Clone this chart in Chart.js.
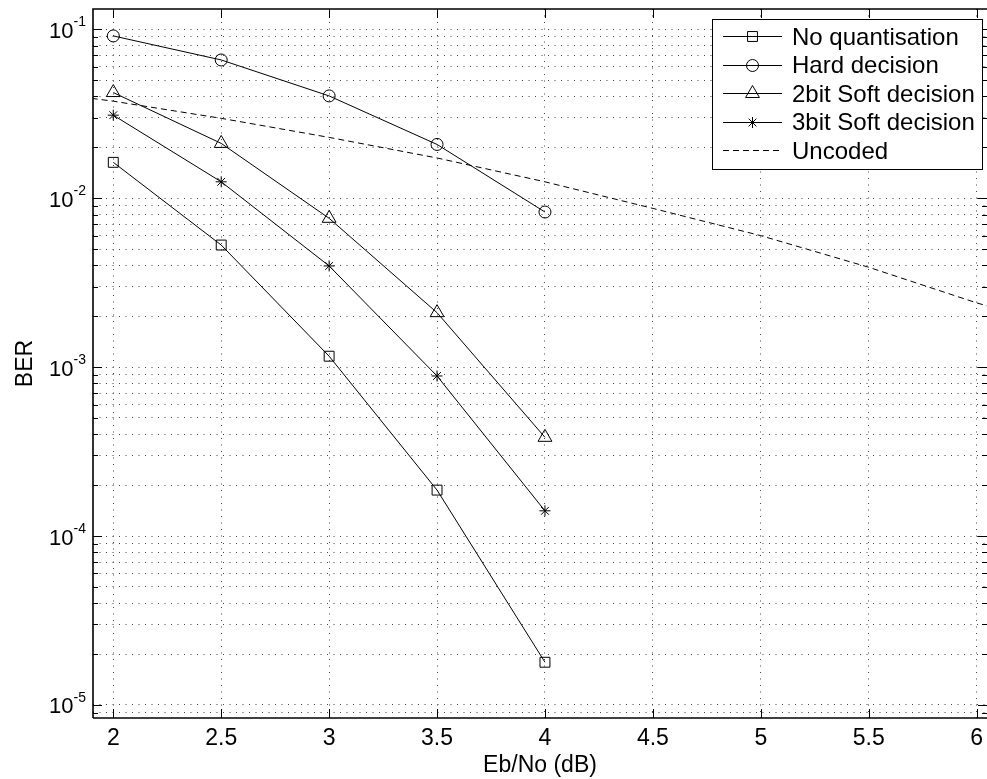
<!DOCTYPE html>
<html>
<head>
<meta charset="utf-8">
<script src="https://cdn.jsdelivr.net/npm/chart.js@4.4.0/dist/chart.umd.min.js"></script>
<style>
  body { margin: 0; background: #fff; }
  canvas { display: block; }
</style>
</head>
<body>
<canvas id="ber" width="987" height="779"></canvas>
<script>
// values
const ebno = [2, 2.5, 3, 3.5, 4];
const noQuant = [0.0163, 0.00528, 0.00116, 0.000187, 0.0000179];
const hardDec = [0.0913, 0.0658, 0.0403, 0.0208, 0.00828];
const soft2bit = [0.0422, 0.0211, 0.0076, 0.0021, 0.000384];
const soft3bit = [0.031, 0.0125, 0.00397, 0.000886, 0.000141];
const uncodedX = [1.9, 2, 2.5, 3, 3.5, 4, 4.5, 5, 5.5, 6, 6.05];
const uncodedY = [0.039, 0.0375, 0.0297, 0.0229, 0.0173, 0.0125, 0.0087, 0.006, 0.0039, 0.0024, 0.0023];
const xTicks = [2, 2.5, 3, 3.5, 4, 4.5, 5, 5.5, 6];
const yDecades = [1e-5, 1e-4, 1e-3, 1e-2, 1e-1];
const yExponents = ['-5', '-4', '-3', '-2', '-1'];

const FONT = "'Liberation Sans', Arial, Helvetica, sans-serif";
const X_MIN = 1.906, X_MAX = 6.048;
const Y_MIN = 8.37e-6, Y_MAX = 0.1318;

// grid at every 1..9 x 10^k inside the range
const yGrid = [];
[1e-6].concat(yDecades).forEach(d => {
  for (let k = 1; k <= 9; k++) {
    const v = k * d;
    if (v >= Y_MIN && v <= Y_MAX) yGrid.push(v);
  }
});
const isDecade = v => yDecades.some(d => Math.abs(v / d - 1) < 1e-6);

const pts = (xs, ys) => xs.map((x, i) => ({ x: x, y: ys[i] }));

function series(label, ys, style, radius) {
  return {
    label: label,
    data: pts(ebno, ys),
    borderColor: '#000',
    borderWidth: 1,
    pointStyle: style,
    pointRadius: radius,
    pointBorderColor: '#000',
    pointBackgroundColor: 'rgba(0,0,0,0)',
    pointBorderWidth: 1,
    tension: 0,
    fill: false
  };
}

const datasets = [
  series('No quantisation', noQuant, 'rect', 7),
  series('Hard decision', hardDec, 'circle', 6),
  series('2bit Soft decision', soft2bit, 'triangle', 8),
  series('3bit Soft decision', soft3bit, 'star', 5.5),
  {
    label: 'Uncoded',
    data: pts(uncodedX, uncodedY),
    borderColor: '#000',
    borderWidth: 1,
    borderDash: [6, 4],
    pointRadius: 0,
    tension: 0,
    fill: false
  }
];

// MATLAB style box, inward ticks, 10^n labels and legend
const matlabAxes = {
  id: 'matlabAxes',
  afterDatasetsDraw(chart) {
    const ctx = chart.ctx;
    const { left, right, top, bottom } = chart.chartArea;
    const xs = chart.scales.x, ys = chart.scales.y;
    ctx.save();
    ctx.strokeStyle = '#000';
    ctx.lineWidth = 1.6;
    ctx.setLineDash([]);
    ctx.beginPath();
    ctx.moveTo(left, bottom); ctx.lineTo(left, top); ctx.lineTo(right + 1, top);
    ctx.moveTo(left, bottom); ctx.lineTo(right + 1, bottom);
    ctx.stroke();

    ctx.lineWidth = 1;
    ctx.beginPath();
    xTicks.forEach(v => {
      const px = Math.round(xs.getPixelForValue(v)) + 0.5;
      ctx.moveTo(px, bottom); ctx.lineTo(px, bottom - 9);
      ctx.moveTo(px, top); ctx.lineTo(px, top + 9);
    });
    yGrid.forEach(v => {
      const py = Math.round(ys.getPixelForValue(v)) + 0.5;
      const len = isDecade(v) ? 9 : 5;
      ctx.moveTo(left, py); ctx.lineTo(left + len, py);
      ctx.moveTo(right, py); ctx.lineTo(right - len, py);
    });
    ctx.stroke();

    // y tick labels with superscript
    ctx.fillStyle = '#000';
    yDecades.forEach((d, i) => {
      const py = ys.getPixelForValue(d);
      ctx.font = '22px ' + FONT;
      ctx.textAlign = 'right';
      ctx.textBaseline = 'alphabetic';
      ctx.fillText('10', 73.5, py + 8.5);
      ctx.font = '14px ' + FONT;
      ctx.textAlign = 'left';
      ctx.fillText(yExponents[i], 73.5, py - 3);
    });

    // legend
    const bx = 712, by = 19, bw = 270, bh = 150;
    ctx.fillStyle = '#fff';
    ctx.fillRect(bx, by, bw, bh);
    ctx.strokeStyle = '#000';
    ctx.lineWidth = 1;
    ctx.strokeRect(bx + 0.5, by + 0.5, bw, bh);
    chart.data.datasets.forEach((ds, i) => {
      const cy = 36 + i * 28.6;
      ctx.strokeStyle = '#000';
      ctx.lineWidth = 1;
      ctx.setLineDash(ds.borderDash || []);
      ctx.beginPath();
      ctx.moveTo(723, Math.round(cy) + 0.5);
      ctx.lineTo(782, Math.round(cy) + 0.5);
      ctx.stroke();
      ctx.setLineDash([]);
      if (ds.pointRadius > 0) {
        ctx.fillStyle = 'rgba(0,0,0,0)';
        Chart.helpers.drawPoint(ctx, {
          pointStyle: ds.pointStyle,
          radius: ds.pointRadius,
          borderWidth: 1,
          rotation: 0
        }, 752.5, Math.round(cy) + 0.5);
      }
      ctx.fillStyle = '#000';
      ctx.font = '24px ' + FONT;
      ctx.textAlign = 'left';
      ctx.textBaseline = 'alphabetic';
      ctx.fillText(ds.label, 792, cy + 8.6);
    });
    ctx.restore();
  }
};

Chart.defaults.font.family = FONT;
Chart.defaults.color = '#000';

new Chart(document.getElementById('ber'), {
  type: 'line',
  data: { datasets: datasets },
  options: {
    responsive: false,
    animation: false,
    layout: { autoPadding: false, padding: { top: 9, left: 0, right: 0, bottom: 0 } },
    plugins: { legend: { display: false }, tooltip: { enabled: false } },
    scales: {
      x: {
        type: 'linear',
        min: X_MIN,
        max: X_MAX,
        afterBuildTicks: s => { s.ticks = xTicks.map(v => ({ value: v })); },
        afterFit: s => { s.height = 61; s.paddingLeft = 0; s.paddingRight = 0; },
        grid: { color: '#444', lineWidth: 1, drawTicks: false },
        border: { display: false, dash: [1, 5.5] },
        ticks: {
          autoSkip: false,
          maxRotation: 0,
          padding: 7,
          font: { size: 23 },
          color: '#000',
          callback: v => String(v)
        },
        title: {
          display: true,
          text: 'Eb/No (dB)',
          font: { size: 23 },
          color: '#000',
          padding: { top: 0, bottom: 0 }
        }
      },
      y: {
        type: 'logarithmic',
        min: Y_MIN,
        max: Y_MAX,
        afterBuildTicks: s => { s.ticks = yGrid.map(v => ({ value: v, major: isDecade(v) })); },
        afterFit: s => { s.width = 93; s.paddingTop = 0; s.paddingBottom = 0; },
        grid: { color: '#444', lineWidth: 1, drawTicks: false },
        border: { display: false, dash: [1, 5.5] },
        ticks: { display: false, autoSkip: false },
        title: {
          display: true,
          text: 'BER',
          font: { size: 23 },
          color: '#000',
          padding: { top: 11.5, bottom: 0 }
        }
      }
    }
  },
  plugins: [matlabAxes]
});
</script>
</body>
</html>
